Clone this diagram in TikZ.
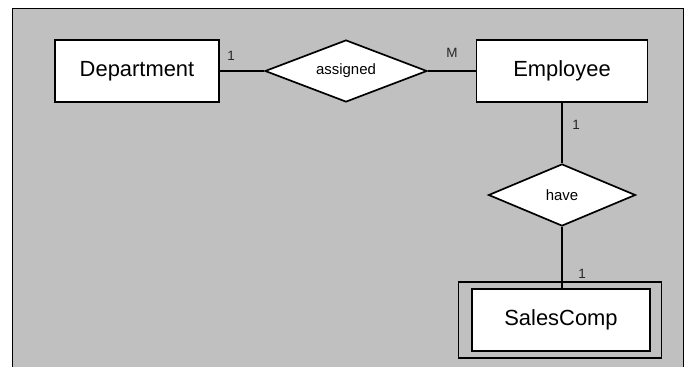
\documentclass[tikz,border=0pt]{standalone}
\usepackage{fontspec}
\setmainfont{Liberation Sans}
\usetikzlibrary{shapes.geometric, positioning}

\definecolor{panelgray}{HTML}{C0C0C0}

\begin{document}
\begin{tikzpicture}[
    x=1bp, y=-1bp,
    entitynode/.style={draw, fill=white, rectangle, line width=1.7bp, inner sep=0pt,
        minimum width=#1, minimum height=62bp, font=\fontsize{22}{26}\selectfont},
    relnode/.style={draw, fill=white, diamond, aspect=2.6, line width=1.7bp, inner sep=0pt,
        minimum width=#1, minimum height=62bp, font=\fontsize{15}{18}\selectfont},
    cardnode/.style={inner sep=0pt, text=black!85, font=\fontsize{13.5}{16}\selectfont},
    link/.style={line width=1.7bp}
]
\useasboundingbox (0,0) rectangle (688,366);

% Hintergrund
\draw[fill=panelgray, line width=0.8bp] (12,8) rectangle (683,380);

% Entitaeten und Beziehungen
\node[entitynode=164bp] (dept) at (137,71) {Department};
\node[relnode=162bp] (assigned) at (346,71) {assigned};
\node[entitynode=171bp] (emp) at (562,71) {Employee};
\node[relnode=147bp] (have) at (562,195) {have};
\node[draw, rectangle, line width=1.7bp, inner sep=0pt, minimum width=203bp, minimum height=76bp] (salesouter) at (560,320) {};
\node[entitynode=178bp] (sales) at (561,320) {SalesComp};

% Verbindungen
\draw[link] (dept) -- (assigned);
\draw[link] (assigned) -- (emp);
\draw[link] (emp) -- (have);
\draw[link] (have.south) -- (have.south |- sales.north);

% Kardinalitaeten
\node[cardnode] (c1) at (231,56) {1};
\node[cardnode] (c2) at (452,53) {M};
\node[cardnode] (c3) at (576,125) {1};
\node[cardnode] (c4) at (582,274) {1};
\end{tikzpicture}
\end{document}
